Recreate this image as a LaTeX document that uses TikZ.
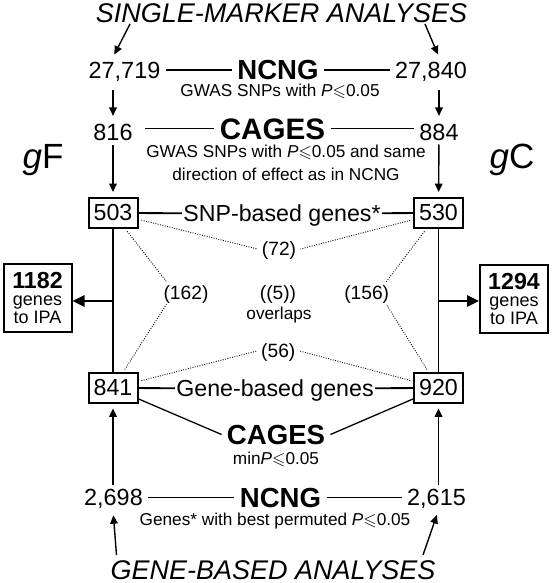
\documentclass[tikz,border=0pt]{standalone}
\usepackage{fontspec}
\setmainfont{Liberation Sans}
\usepackage{amssymb}
\usetikzlibrary{arrows.meta}
\tikzset{%
  title/.style={font=\fontsize{13.5}{16}\selectfont\itshape,inner sep=0pt,text height=9.7pt,text depth=0pt},
  num/.style={font=\fontsize{11.7}{14}\selectfont,inner xsep=2.5pt,inner ysep=2pt,text height=8.4pt,text depth=0pt},
  head/.style={font=\fontsize{13.8}{16}\selectfont\bfseries,inner xsep=2.5pt,inner ysep=0pt,text height=9.9pt,text depth=0pt},
  note/.style={font=\fontsize{8.6}{11.5}\selectfont,inner sep=0pt,text height=6.2pt,text depth=0pt},
  gset/.style={font=\fontsize{11.6}{14}\selectfont,inner xsep=0.5pt,inner ysep=1pt,text height=8.3pt,text depth=0pt},
  box/.style={draw,line width=1pt,minimum width=24.5pt,minimum height=15pt,inner sep=0pt,font=\fontsize{11.6}{14}\selectfont},
  ipa/.style={draw,line width=1pt,minimum width=34pt,minimum height=34pt,inner sep=0pt,align=center,font=\fontsize{9}{9.2}\selectfont},
  ovl/.style={font=\fontsize{9.6}{12}\selectfont,inner sep=2pt,text height=6.9pt,text depth=0pt},
  grp/.style={font=\fontsize{17.5}{20}\selectfont,inner sep=0pt,text height=12.5pt,text depth=0pt},
  arr/.style={line width=0.7pt,-{Triangle[length=4.2pt,width=3.8pt]}},
  bigarr/.style={line width=1pt,-{Triangle[length=6pt,width=5.6pt]}},
  thinline/.style={line width=0.55pt},
  link/.style={line width=0.9pt},
  slant/.style={line width=0.65pt},
  dots/.style={line width=0.45pt,dash pattern=on 0.45pt off 0.75pt,shorten <=1.5pt}
}
\NewDocumentCommand\pthr{}{\textit{P}\ensuremath{\leqslant}}

\begin{document}
\begin{tikzpicture}[x=0.5pt,y=-0.5pt]
  \path[use as bounding box,fill=white] (0,0) rectangle (553,583);
  %%% single-marker side
  \node[title] (sma) at (281.5,13.3) {SINGLE-MARKER ANALYSES};
  \node[num] (nF1) at (124.5,70) {27,719};
  \node[head] (ncngT) at (278,70) {NCNG};
  \node[num] (nC1) at (431,70) {27,840};
  \node[note] (gwasT) at (280,90.5) {GWAS SNPs with \pthr0.05};
  \node[num] (nF2) at (113,131.7) {816};
  \node[head,font=\fontsize{14.8}{17}\selectfont\bfseries,text height=10.6pt] (cagesT) at (272.5,128.5) {CAGES};
  \node[num] (nC2) at (439,131.7) {884};
  \node[note,align=center,anchor=north,text height=,text depth=] (gwasC) at (286,145)
    {GWAS SNPs with \pthr0.05 and same\\direction of effect as in NCNG};
  \node[grp] (gF) at (43,155.5) {\textit{g}F};
  \node[grp] (gC) at (512,155.5) {\textit{g}C};
  %%% gene sets
  \node[box] (b503) at (113,213) {503};
  \node[box] (b530) at (438.5,213) {530};
  \node[box] (b841) at (113,388) {841};
  \node[box] (b920) at (438.5,388) {920};
  \node[gset] (snp) at (282,213.5) {SNP-based genes*};
  \node[gset] (genes) at (275,388.5) {Gene-based genes};
  \node[ipa] (ipaF) at (37.5,298) {{\bfseries\fontsize{11.6}{12}\selectfont 1182}\\[-0.8pt]genes\\to IPA};
  \node[ipa] (ipaC) at (514,299) {{\bfseries\fontsize{11.6}{12}\selectfont 1294}\\[-0.8pt]genes\\to IPA};
  \node[ovl] (p72) at (279,249) {(72)};
  \node[ovl] (p162) at (186,293) {(162)};
  \node[ovl] (p156) at (366.7,293) {(156)};
  \node[ovl] (p56) at (278.3,351) {(56)};
  \node[ovl] (p5) at (278,293) {((5))};
  \node[note] (ovlp) at (279,313) {overlaps};
  %%% gene-based side
  \node[head] (cagesB) at (276,434.5) {CAGES};
  \node[note] (minp) at (276,457.8) {min\pthr0.05};
  \node[num] (nF3) at (113.5,497.5) {2,698};
  \node[head] (ncngB) at (280.5,497.5) {NCNG};
  \node[num] (nC3) at (436.5,497.5) {2,615};
  \node[note] (genesB) at (275,519.5) {Genes* with best permuted \pthr0.05};
  \node[title] (gba) at (273,569.3) {GENE-BASED ANALYSES};
  %%
  \coordinate (tF) at (130,24);
  \coordinate (tC) at (425,24);
  \coordinate (gbF) at (116.5,555);
  \coordinate (gbC) at (423,555);
  \coordinate (jF) at (113,301);
  \coordinate (jC) at (438.5,301);
  %% arrows
  \draw[arr,shorten >=1.5pt] (tF) -- (nF2 |- nF1.north);
  \draw[arr,shorten >=1.5pt] (tC) -- (nC2 |- nC1.north);
  \draw[arr,shorten <=3.5pt,shorten >=1.5pt] (nF1.south -| nF2) -- (nF2);
  \draw[arr,shorten <=3.5pt,shorten >=1.5pt] (nC1.south -| nC2) -- (nC2);
  \draw[arr,shorten >=2.5pt] (nF2) -- (b503);
  \draw[arr,shorten >=2.5pt] (nC2) -- (b530);
  \draw[arr,shorten >=2.2pt] (nF3.north -| b841) -- (b841);
  \draw[arr,shorten >=2.2pt] (nC3.north -| b920) -- (b920);
  \draw[arr,shorten >=2.5pt] (gbF) -- (nF3.south -| b841);
  \draw[arr,shorten >=2.5pt] (gbC) -- (nC3.south -| b920);
  \draw[bigarr] (jF) -- (jF -| ipaF.east);
  \draw[bigarr] (jC) -- (jC -| ipaC.west);
  %% lines
  \draw[thinline] (nF1) -- (ncngT) -- (nC1);
  \draw[thinline,shorten <=3.5pt] (nF2.east |- cagesT) -- (cagesT);
  \draw[thinline] (cagesT) -- (cagesT -| nC2.west);
  \draw[thinline] (nF3) -- (ncngB) -- (nC3);
  \draw[link] (b503) -- (snp) -- (b530);
  \draw[link] (b841) -- (genes) -- (b920);
  \draw[link] (b503) -- (b841);
  \draw[link] (b530) -- (b920);
  \draw[slant] (b841) -- (cagesB.west);
  \draw[slant] (b920) -- (cagesB.east);
  %% overlaps
  \draw[dots] (b503) -- (p72.west);
  \draw[dots] (b530) -- (p72.east);
  \draw[dots] (b503) -- (p162.150);
  \draw[dots] (b841) -- (p162.-150);
  \draw[dots] (b530) -- (p156.30);
  \draw[dots] (b920) -- (p156.-30);
  \draw[dots] (b841) -- (p56.west);
  \draw[dots] (b920) -- (p56.east);
\end{tikzpicture}
\end{document}
